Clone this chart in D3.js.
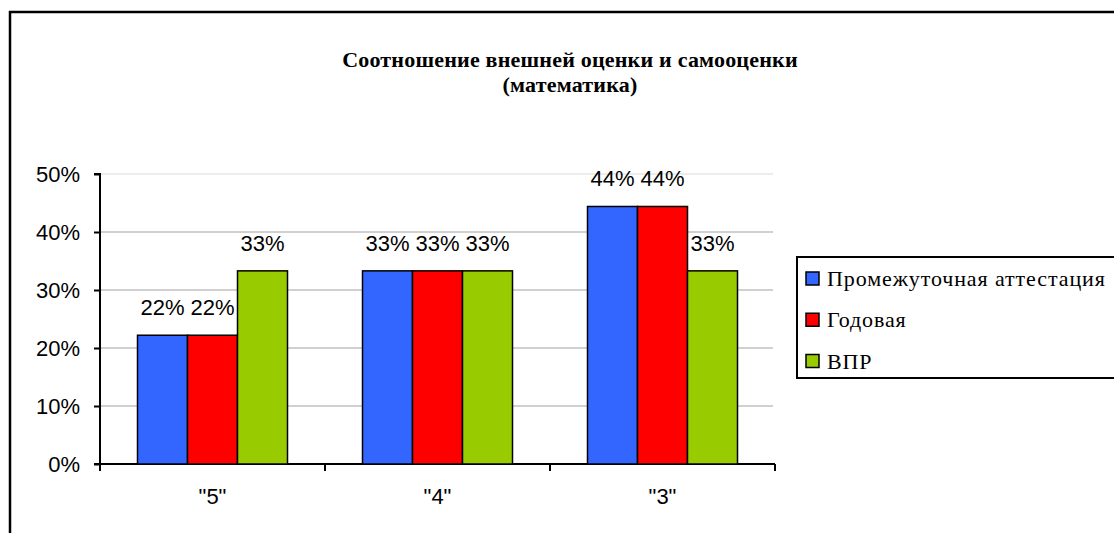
<!DOCTYPE html>
<html>
<head>
<meta charset="utf-8">
<script src="https://cdn.jsdelivr.net/npm/d3@7"></script>
<style>
  html, body { margin: 0; padding: 0; background: #fff; }
  svg { display: block; }
</style>
</head>
<body>
<svg id="chart" width="1114" height="533"></svg>
<script>
const categories = ['"5"', '"4"', '"3"'];
const seriesNames = ["Промежуточная аттестация", "Годовая", "ВПР"];
const seriesColors = ["#3366FF", "#FF0000", "#99CC00"];
const valuesPromezh = [0.222, 0.333, 0.444];
const valuesGodovaya = [0.222, 0.333, 0.444];
const valuesVPR = [0.333, 0.333, 0.333];
const yTicks = [0, 0.1, 0.2, 0.3, 0.4, 0.5];
const titleLines = ["Соотношение внешней оценки и самооценки", "(математика)"];

const seriesValues = [valuesPromezh, valuesGodovaya, valuesVPR];

const svg = d3.select("#chart");
const W = 1114, H = 533;
const sans = "'Liberation Sans', Arial, sans-serif";
const serif = "'Liberation Serif', 'Times New Roman', serif";

// outer frame (top & left visible)
svg.append("path")
  .attr("d", `M10,${H} L10,12 L${W},12`)
  .attr("fill", "none").attr("stroke", "#000").attr("stroke-width", 2.5);

// title
const title = svg.append("text")
  .attr("text-anchor", "middle")
  .attr("font-family", serif)
  .attr("font-weight", "bold")
  .attr("font-size", 22)
  .attr("letter-spacing", 0.2)
  .attr("fill", "#000");
titleLines.forEach((t, i) => {
  title.append("tspan").attr("x", 570).attr("y", 67 + i * 25).text(t);
});

const plotL = 100, plotR = 775, plotT = 174, plotB = 464;

const x = d3.scaleBand().domain(categories).range([plotL, plotR]).padding(0);
const xs = d3.scaleBand().domain(d3.range(seriesNames.length))
  .range([x.bandwidth() / 6, x.bandwidth() * 5 / 6]).padding(0);
const y = d3.scaleLinear().domain([0, 0.5]).range([plotB, plotT]);

// gridlines
svg.append("g").selectAll("line").data(yTicks.filter(d => d > 0)).join("line")
  .attr("x1", plotL).attr("x2", plotR - 2)
  .attr("y1", d => y(d)).attr("y2", d => y(d))
  .attr("stroke", d => d === 0.5 ? "#e6e6e6" : "#c0c0c0")
  .attr("stroke-width", 1.5);

// y axis
const yAxis = d3.axisLeft(y).tickValues(yTicks).tickFormat(d3.format(".0%"))
  .tickSize(6).tickPadding(14);
const gy = svg.append("g").attr("transform", `translate(${plotL},0)`).call(yAxis);
gy.select(".domain").attr("stroke", "#000").attr("stroke-width", 2)
  .attr("d", `M-6,${plotT}H0V${plotB + 6}`);
gy.selectAll(".tick line").attr("stroke", "#000").attr("stroke-width", 2);
gy.selectAll(".tick text")
  .attr("font-family", sans)
  .attr("font-size", 22).attr("fill", "#000");

// x axis
const xAxis = d3.axisBottom(x).tickSize(0).tickPadding(24);
const gx = svg.append("g").attr("transform", `translate(0,${plotB})`).call(xAxis);
gx.select(".domain").attr("stroke", "#000").attr("stroke-width", 2)
  .attr("d", `M${plotL - 6},0H${plotR}`);
gx.selectAll(".tick text")
  .attr("font-family", sans)
  .attr("font-size", 22).attr("fill", "#000");
// x tick marks at category boundaries
const bounds = categories.map(c => x(c)).concat([plotR]);
svg.append("g").selectAll("line").data(bounds).join("line")
  .attr("x1", d => d).attr("x2", d => d)
  .attr("y1", plotB).attr("y2", plotB + 7)
  .attr("stroke", "#000").attr("stroke-width", 2);

// bars
const barData = [];
categories.forEach((c, ci) => {
  seriesValues.forEach((vals, si) => {
    barData.push({ c, si, v: vals[ci] });
  });
});
svg.append("g").selectAll("rect").data(barData).join("rect")
  .attr("x", d => x(d.c) + xs(d.si))
  .attr("y", d => y(d.v))
  .attr("width", xs.bandwidth())
  .attr("height", d => y(0) - y(d.v))
  .attr("fill", d => seriesColors[d.si])
  .attr("stroke", "#000").attr("stroke-width", 1.5);

// labels
svg.append("g").selectAll("text").data(barData).join("text")
  .attr("x", d => x(d.c) + xs(d.si) + xs.bandwidth() / 2)
  .attr("y", d => y(d.v) - 20)
  .attr("text-anchor", "middle")
  .attr("font-family", sans)
  .attr("font-size", 22).attr("fill", "#000")
  .text(d => d3.format(".0%")(d.v));

// legend
const lg = svg.append("g");
lg.append("rect").attr("x", 797).attr("y", 257).attr("width", 400).attr("height", 121)
  .attr("fill", "#fff").attr("stroke", "#000").attr("stroke-width", 2);
const legendY = d3.scalePoint().domain(d3.range(seriesNames.length)).range([278.5, 361]);
seriesNames.forEach((n, i) => {
  lg.append("rect").attr("x", 806).attr("y", legendY(i) - 6.5)
    .attr("width", 13).attr("height", 13)
    .attr("fill", seriesColors[i]).attr("stroke", "#000").attr("stroke-width", 1.5);
  lg.append("text").attr("x", 827).attr("y", legendY(i) + 7.5)
    .attr("font-family", serif)
    .attr("font-size", 22).attr("letter-spacing", 0.9).attr("fill", "#000").text(n);
});
</script>
</body>
</html>
